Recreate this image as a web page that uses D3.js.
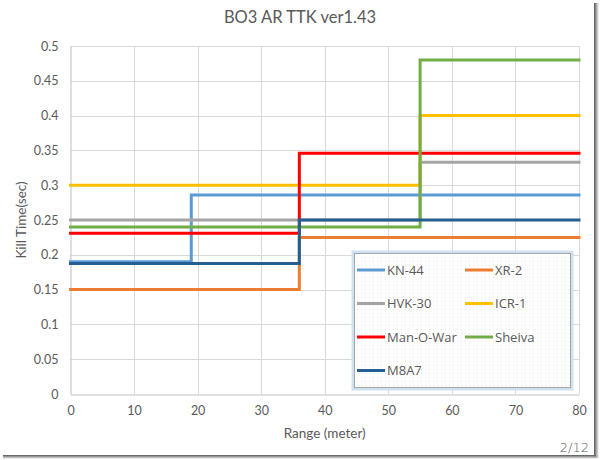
<!DOCTYPE html>
<html><head><meta charset="utf-8">
<script src="https://cdn.jsdelivr.net/npm/d3@7/dist/d3.min.js"></script>
<style>body{margin:0;background:#fff;}svg{display:block;}</style>
</head><body>
<svg id="chart" width="600" height="460"></svg>
<script>
const seriesNames = ["KN-44", "XR-2", "HVK-30", "ICR-1", "Man-O-War", "Sheiva", "M8A7"];
const seriesColors = ["#5B9BD5", "#ED7D31", "#A5A5A5", "#FFC000", "#FF0000", "#70AD47", "#255E91"];
const breakRange = [19, 36, 55, 55, 36, 55, 36];
const nearTTK = [0.19, 0.15, 0.25, 0.30, 0.231, 0.24, 0.1875];
const farTTK = [0.286, 0.225, 0.333, 0.40, 0.346, 0.48, 0.25];
const maxRange = 80;
const xTicks = [0, 10, 20, 30, 40, 50, 60, 70, 80];
const yTicks = [0, 0.05, 0.1, 0.15, 0.2, 0.25, 0.3, 0.35, 0.4, 0.45, 0.5];

const svg = d3.select("#chart");
const W = 600, H = 460;
const m = {left: 70.5, right: 579, top: 46, bottom: 394};
const font = "Lato, 'Open Sans', sans-serif";
const textColor = "#595959";

// frame shadow
const defs = svg.append("defs");
const gr = defs.append("linearGradient").attr("id", "shR").attr("x1", 0).attr("x2", 1).attr("y1", 0).attr("y2", 0);
gr.append("stop").attr("offset", "0%").attr("stop-color", "#555");
gr.append("stop").attr("offset", "100%").attr("stop-color", "#fff");
const gb = defs.append("linearGradient").attr("id", "shB").attr("x1", 0).attr("x2", 0).attr("y1", 0).attr("y2", 1);
gb.append("stop").attr("offset", "0%").attr("stop-color", "#555");
gb.append("stop").attr("offset", "100%").attr("stop-color", "#fff");
const pat = defs.append("pattern").attr("id", "dots").attr("width", 4).attr("height", 4).attr("patternUnits", "userSpaceOnUse");
pat.append("rect").attr("width", 4).attr("height", 4).attr("fill", "#fff");
pat.append("rect").attr("x", 1).attr("y", 1).attr("width", 1).attr("height", 1).attr("fill", "#e6e6e6");

svg.append("rect").attr("x", 0).attr("y", 0).attr("width", W).attr("height", H).attr("fill", "#fff");
svg.append("rect").attr("x", 594).attr("y", 3).attr("width", 5).attr("height", 455).attr("fill", "url(#shR)");
svg.append("rect").attr("x", 3).attr("y", 455).attr("width", 593).attr("height", 4).attr("fill", "url(#shB)");
svg.append("rect").attr("x", 0).attr("y", 0).attr("width", 594).attr("height", 455).attr("fill", "#fff");

const x = d3.scaleLinear().domain([0, maxRange]).range([m.left, m.right]);
const y = d3.scaleLinear().domain([0, 0.5]).range([m.bottom, m.top]);

// gridlines
svg.append("g").selectAll("line.gx").data(xTicks.slice(1)).join("line")
  .attr("x1", d => Math.round(x(d)) + 0.5).attr("x2", d => Math.round(x(d)) + 0.5)
  .attr("y1", m.top).attr("y2", m.bottom).attr("stroke", "#d9d9d9").attr("stroke-width", 1);
svg.append("g").selectAll("line.gy").data(yTicks.slice(1)).join("line")
  .attr("y1", d => Math.round(y(d)) + 0.5).attr("y2", d => Math.round(y(d)) + 0.5)
  .attr("x1", m.left).attr("x2", m.right).attr("stroke", "#d9d9d9").attr("stroke-width", 1);

// axes
const xAxis = svg.append("g").attr("transform", `translate(0,${m.bottom + 0.5})`)
  .call(d3.axisBottom(x).tickValues(xTicks).tickSize(0).tickPadding(12).tickFormat(d3.format("d")));
const yAxis = svg.append("g").attr("transform", `translate(${m.left},0)`)
  .call(d3.axisLeft(y).tickValues(yTicks).tickSize(0).tickPadding(12).tickFormat(d => d === 0 ? "0" : String(+d.toFixed(2))));
[xAxis, yAxis].forEach(a => {
  a.select(".domain").attr("stroke", "#bfbfbf").attr("stroke-width", 1);
  a.selectAll("text").attr("fill", textColor).style("font-family", font).style("font-size", "12.5px");
});

// series step lines
const line = d3.line().x(d => x(d[0])).y(d => y(d[1])).curve(d3.curveStepAfter);
seriesNames.forEach((name, i) => {
  const pts = [[0, nearTTK[i]], [breakRange[i], farTTK[i]], [maxRange, farTTK[i]]];
  svg.append("path").datum(pts).attr("d", line)
    .attr("fill", "none").attr("stroke", seriesColors[i]).attr("stroke-width", 3)
    .attr("stroke-linejoin", "miter").attr("stroke-linecap", "square");
});

// title & axis titles
svg.append("text").attr("x", 300).attr("y", 23).attr("text-anchor", "middle")
  .attr("fill", textColor).style("font-family", font).style("font-size", "16.5px").text("BO3 AR TTK ver1.43");
svg.append("text").attr("x", (m.left + m.right) / 2).attr("y", 438).attr("text-anchor", "middle")
  .attr("fill", textColor).style("font-family", font).style("font-size", "13.5px").text("Range (meter)");
svg.append("text").attr("transform", `translate(26,${(m.top + m.bottom) / 2}) rotate(-90)`).attr("text-anchor", "middle")
  .attr("fill", textColor).style("font-family", font).style("font-size", "13.5px").text("Kill Time(sec)");
svg.append("text").attr("x", 589).attr("y", 452).attr("text-anchor", "end")
  .attr("fill", textColor).style("font-family", "'DejaVu Sans', sans-serif").style("font-size", "13px").style("font-weight", "300").text("2/12");

// legend
const lg = {x: 354.5, y: 253.5, w: 216, h: 134};
svg.append("rect").attr("x", lg.x - 1.5).attr("y", lg.y - 1.5).attr("width", lg.w + 3).attr("height", lg.h + 3)
  .attr("fill", "none").attr("stroke", "#cfe0f1").attr("stroke-width", 3);
svg.append("rect").attr("x", lg.x).attr("y", lg.y).attr("width", lg.w).attr("height", lg.h)
  .attr("fill", "url(#dots)").attr("stroke", "#a6a6a6").attr("stroke-width", 1);
const colX = [357, 465], rowY = [270, 303.5, 337, 370.5];
seriesNames.forEach((name, i) => {
  const cx = colX[i % 2], cy = rowY[Math.floor(i / 2)];
  svg.append("line").attr("x1", cx).attr("x2", cx + 28).attr("y1", cy).attr("y2", cy)
    .attr("stroke", seriesColors[i]).attr("stroke-width", 3);
  svg.append("text").attr("x", cx + 30).attr("y", cy).attr("dy", "0.35em")
    .attr("fill", textColor).style("font-family", "'Open Sans', sans-serif").style("font-size", "13px").text(name);
});
</script>
</body></html>
